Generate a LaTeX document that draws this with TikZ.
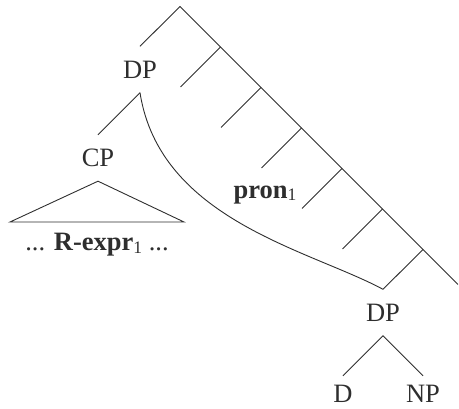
\documentclass[tikz,border=0pt]{standalone}
\usepackage{fontspec}
\setmainfont{Liberation Serif}
\usepackage{tikz}
\usetikzlibrary{calc, positioning}
\colorlet{ink}{black!82}
\newcommand\idx[1]{\raisebox{-2.5pt}{\fontsize{17.5pt}{18pt}\selectfont\mdseries #1}}
\tikzset{
  cat/.style ={inner sep=0pt, minimum height=46pt, text=ink, font=\fontsize{26.5pt}{30pt}\selectfont},
  leaf/.style={inner sep=0pt, text height=27pt, text depth=0pt, anchor=base, text=ink, font=\fontsize{26.5pt}{30pt}\selectfont},
  lab/.style ={inner sep=0pt, text=ink, font=\fontsize{26.5pt}{30pt}\selectfont},
  br/.style  ={draw=ink, line width=0.9pt},
  mv/.style  ={draw=ink, line width=0.9pt},
}
\begin{document}
\begin{tikzpicture}[x=1pt, y=-1pt]
  \useasboundingbox (0,0) rectangle (459,409);
  \foreach \i in {0,...,6}
    \coordinate (s\i) at (180+40.5*\i, 6.5+40.5*\i);
  \coordinate (s7) at ($(s6)+(35,35)$);
  \foreach \i in {1,...,5}
    \coordinate (l\i) at ($(s\i)+(-40,40)$);
  \node[cat] (dp1) at (140,69.5) {DP};
  \node[cat] (cp) at (98,158) {CP};
  \coordinate (tl) at (10,222);
  \coordinate (tr) at (184,222);
  \node[lab] (rx) at (97,245) {... \textbf{R-expr}\idx{1} ...};
  \node[lab] (pr) at (265,195) {\textbf{pron}\idx{1}};
  \node[cat] (dp2) at (383,312.5) {DP};
  \node[leaf] (d) at (343,403) {D};
  \node[leaf] (np) at (423,403) {NP};
  \draw[br] (s0) -- (s7);
  \draw[br] (s0) -- (dp1.north);
  \foreach \i in {1,...,5}
    \draw[br] (s\i) -- (l\i);
  \draw[br] (s6) -- (dp2.north);
  \draw[br] (dp1.south) -- (cp.north);
  \draw[br] (cp.south) -- (tl) -- (tr) -- cycle;
  \draw[br] (dp2.south) -- (d.north);
  \draw[br] (dp2.south) -- (np.north);
  \draw[mv] (dp1.south) .. controls (160,220) and (310,250) .. (dp2.north);
\end{tikzpicture}
\end{document}
